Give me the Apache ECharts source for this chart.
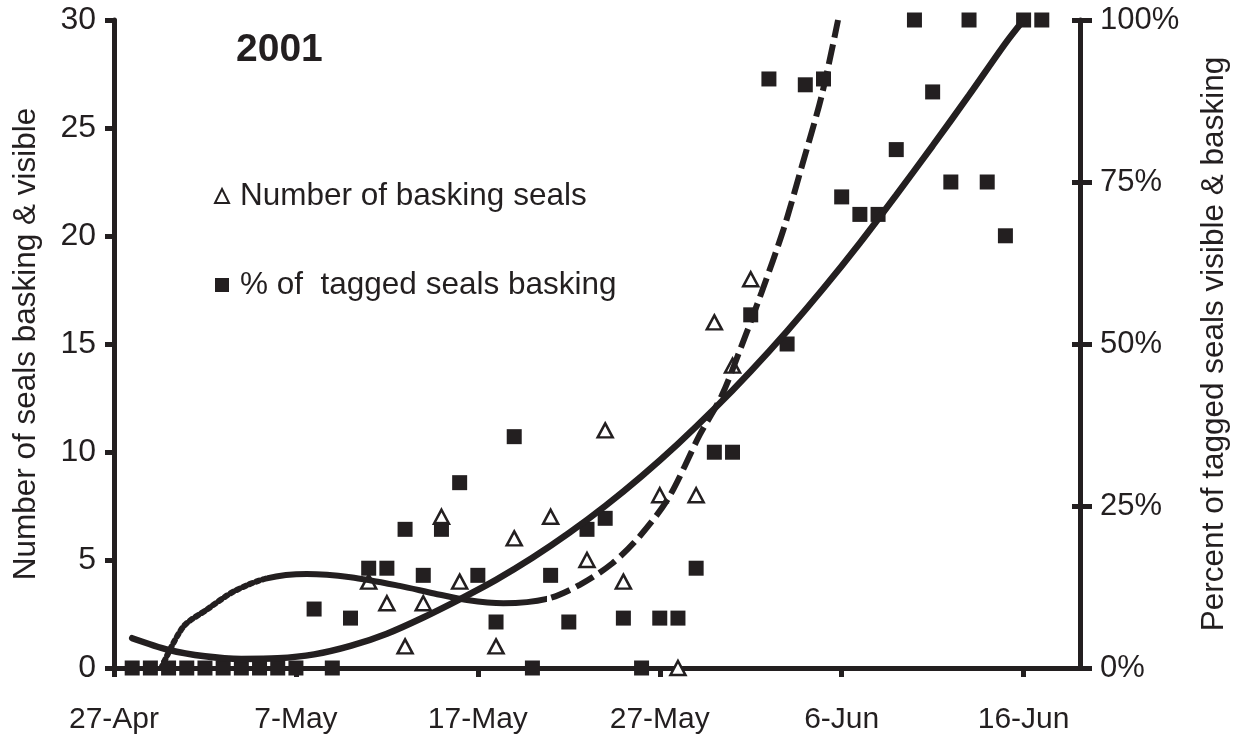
<!DOCTYPE html>
<html>
<head>
<meta charset="utf-8">
<script src="https://cdn.jsdelivr.net/npm/echarts@6/dist/echarts.min.js"></script>
<style>
html,body{margin:0;padding:0;background:#fff;}
#chart{width:1242px;height:735px;}
</style>
</head>
<body>
<div id="chart"></div>
<script>
// ---- data (day 0 = 27-Apr) ----
const dateLabels = ['27-Apr', '7-May', '17-May', '27-May', '6-Jun', '16-Jun'];
const leftTicks = [0, 5, 10, 15, 20, 25, 30];
const rightTicks = ['0%', '25%', '50%', '75%', '100%'];

// % of tagged seals basking (right axis)
const pctDays = [1,2,3,4,5,6,7,8,9,10,11,12,13,14,15,16,17,18,19,20,21,22,23,24,25,26,27,28,29,30,31,32,33,34,35,36,37,38,39,40,41,42,43,44,45,46,47,48,49,50,51];
const pctValues = [0,0,0,0,0,0,0,0,0,0,9.1,0,7.7,15.4,15.4,21.4,14.3,21.4,28.6,14.3,7.1,35.7,0,14.3,7.1,21.4,23.1,7.7,0,7.7,7.7,15.4,33.3,33.3,54.5,90.9,50,90,90.9,72.7,70,70,80,100,88.9,75,100,75,66.7,100,100];

// Number of basking seals (left axis)
const cntDays = [14,15,16,17,18,19,21,22,24,26,27,28,30,31,32,33,34,35];
const cntValues = [4,3,1,3,7,4,1,6,7,5,11,4,8,0,8,16,14,18];

// trend of % (solid line)
const solidDays = [1,3,5,7,9,11,13,15,17,19,21,23,25,27,29,31,33,35,37,39,41,43,45,47,49,50];
const solidPct = [4.6,2.8,1.8,1.4,1.5,2.1,3.4,5.3,7.8,10.6,13.6,17.0,20.8,25.0,29.6,34.6,40.0,45.8,52.0,58.6,65.6,73.0,80.6,88.4,96.4,100];

// trend of counts (dashed line)
const dashDays = [2.6,3.8,5.1,6.6,8.4,10.6,13,15.7,17.6,19.4,21.4,23.8,25.6,27.4,28.9,30.5,32.2,33.4,34.4,35.6,36.8,37.8,38.9,39.8];
const dashCount = [0,1.9,2.7,3.55,4.15,4.35,4.2,3.8,3.45,3.15,3.0,3.2,3.85,4.85,6.1,7.9,10.8,12.6,14.7,17.4,20.3,23.2,26.5,30];

const INK = '#231f20';
const CLEAR = 'rgba(35,31,32,0)';
const FONT = '"Liberation Sans", Arial, sans-serif';

const pair = (xs, ys) => xs.map((x, i) => [x, ys[i]]);
const dashData = pair(dashDays, dashCount);

const chart = echarts.init(document.getElementById('chart'), null, {renderer: 'canvas'});

const dashPart = (name, type, cap) => ({
  name: name, type: 'line', yAxisIndex: 0, z: 4, smooth: 0.3, symbol: 'none',
  lineStyle: {width: 6, type: type, cap: cap},
  data: dashData
});
const section = (idx, pieces) => ({
  type: 'piecewise', show: false, dimension: 0, seriesIndex: idx,
  pieces: pieces
});

const option = {
  animation: false,
  backgroundColor: '#fff',
  textStyle: {fontFamily: FONT},
  title: {
    text: '2001', left: 231, top: 26,
    textStyle: {fontFamily: FONT, fontSize: 39, fontWeight: 'bold', color: INK}
  },
  legend: {
    data: ['Number of basking seals', '% of  tagged seals basking'],
    orient: 'vertical', left: 209, top: 173,
    itemWidth: 14, itemHeight: 14, itemGap: 53,
    textStyle: {fontFamily: FONT, fontSize: 31.5, color: INK, lineHeight: 36, padding: [0, 0, 0, 6]}
  },
  grid: {left: 114, right: 162, top: 20, bottom: 67, containLabel: false},
  visualMap: [
    section(3, [{gte: 0, lte: 8.4, color: INK}, {gt: 8.4, lte: 60, color: CLEAR}]),
    section(4, [{gte: 0, lte: 8.4, color: CLEAR}, {gt: 8.4, lte: 23.8, color: INK}, {gt: 23.8, lte: 60, color: CLEAR}]),
    section(5, [{gte: 0, lte: 23.8, color: CLEAR}, {gt: 23.8, lte: 60, color: INK}])
  ],
  xAxis: {
    type: 'value', min: 0, max: 53.1, interval: 10,
    axisLine: {lineStyle: {color: INK, width: 5, cap: 'round'}},
    axisTick: {length: 9, lineStyle: {color: INK, width: 5}},
    splitLine: {show: false},
    axisLabel: {
      fontFamily: FONT, fontSize: 30, color: INK, margin: 37,
      showMaxLabel: false,
      formatter: v => (Math.abs(v % 10) < 1e-9 ? dateLabels[Math.round(v / 10)] : '')
    }
  },
  yAxis: [
    {
      type: 'value', min: 0, max: 30, interval: 5, position: 'left',
      name: 'Number of seals basking & visible', nameLocation: 'middle', nameGap: 72, nameRotate: 90,
      nameTextStyle: {fontFamily: FONT, fontSize: 31.5, color: INK},
      axisLine: {show: true, lineStyle: {color: INK, width: 5, cap: 'round'}},
      axisTick: {show: true, length: 9, lineStyle: {color: INK, width: 5}},
      splitLine: {show: false},
      axisLabel: {fontFamily: FONT, fontSize: 32, color: INK, margin: 18,
        formatter: v => String(leftTicks[Math.round(v / 5)])}
    },
    {
      type: 'value', min: 0, max: 100, interval: 25, position: 'right',
      name: 'Percent of tagged seals visible & basking', nameLocation: 'middle', nameGap: 118, nameRotate: 90,
      nameTextStyle: {fontFamily: FONT, fontSize: 31.5, color: INK},
      axisLine: {show: true, lineStyle: {color: INK, width: 5, cap: 'round'}},
      axisTick: {show: true, length: 12, lineStyle: {color: INK, width: 5}},
      splitLine: {show: false},
      axisLabel: {fontFamily: FONT, fontSize: 31, color: INK, margin: 20,
        formatter: v => rightTicks[Math.round(v / 25)]}
    },
    {
      type: 'value', min: 0, max: 100, interval: 25, position: 'right',
      axisLine: {show: false},
      axisTick: {show: true, inside: true, length: 8, lineStyle: {color: INK, width: 5}},
      axisLabel: {show: false}, splitLine: {show: false}
    }
  ],
  series: [
    {
      name: 'Number of basking seals', type: 'scatter', yAxisIndex: 0, z: 2,
      symbol: 'triangle', symbolSize: [15, 14],
      itemStyle: {color: '#fff', borderColor: INK, borderWidth: 2.5, opacity: 1},
      data: pair(cntDays, cntValues)
    },
    {
      name: '% of  tagged seals basking', type: 'scatter', yAxisIndex: 1, z: 3,
      symbol: 'rect', symbolSize: 15,
      itemStyle: {color: INK, opacity: 1},
      data: pair(pctDays, pctValues)
    },
    {
      name: 'pct trend', type: 'line', yAxisIndex: 1, z: 4, smooth: 0.3, symbol: 'none',
      lineStyle: {color: INK, width: 6.5, cap: 'round'},
      data: pair(solidDays, solidPct)
    },
    dashPart('count trend a', [3, 4], 'round'),
    dashPart('count trend b', 'solid', 'butt'),
    dashPart('count trend c', [20, 7], 'butt')
  ]
};
chart.setOption(option);
</script>
</body>
</html>
